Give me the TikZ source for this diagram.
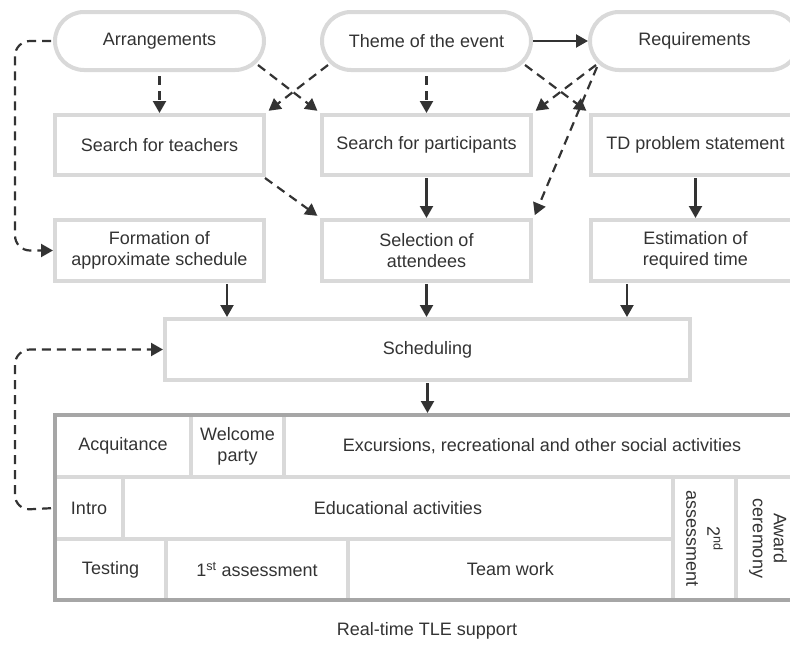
\documentclass[tikz,border=0pt]{standalone}
\usepackage{fontspec}
\setmainfont{Liberation Sans}
\usetikzlibrary{arrows.meta,calc}
\definecolor{boxgray}{HTML}{D9D9D9}
\definecolor{framegray}{HTML}{A6A6A6}
\definecolor{ink}{HTML}{333333}
\begin{document}
\begin{tikzpicture}[x=1pt,y=-1pt,
  every node/.style={text=ink, font=\fontsize{18}{21}\selectfont, inner sep=0pt, outer sep=0pt, align=center},
  pill/.style={draw=boxgray, line width=4pt, minimum width=209pt, minimum height=58pt, rounded corners=29pt, fill=white},
  boxn/.style={draw=boxgray, line width=4pt, minimum width=209pt, minimum height=60pt},
  cell/.style={draw=boxgray, line width=4pt},
  sarrow/.style={draw=ink, line width=2.2pt, -{Triangle[length=12pt,width=13pt]}, shorten >=2pt},
  darrow/.style={sarrow, dash pattern=on 9pt off 6pt},
]
\useasboundingbox (0,0) rectangle (790,648);
\clip (0,0) rectangle (790,648);

% top row
\node[pill] (arr) at (159.5,41) {Arrangements};
\node[pill] (theme) at (426.5,41) {Theme of the event};
\node[pill] (req) at (694.5,41) {Requirements};

% second row
\node[boxn] (tea) at (159.5,145) {Search for teachers};
\node[boxn] (par) at (426.5,145) {Search for participants};
\node[boxn] (td) at (695.5,145) {TD problem statement};

% third row
\node[boxn, minimum height=61pt] (form) at (159.5,250.5) {Formation of\\approximate schedule};
\node[boxn, minimum height=61pt] (sel) at (426.5,250.5) {Selection of\\attendees};
\node[boxn, minimum height=61pt] (est) at (695.5,250.5) {Estimation of\\required time};

% scheduling
\node[boxn, minimum width=525pt, minimum height=61pt] (sch) at (427.5,349.5) {Scheduling};

% table cells
\node[cell, minimum width=136pt, minimum height=62pt] (acq) at (123,446) {Acquitance};
\node[cell, minimum width=93pt, minimum height=62pt] (wel) at (237.5,446) {Welcome\\party};
\node[cell, minimum width=516pt, minimum height=62pt] (exc) at (542,446) {Excursions, recreational and other social activities};
\node[cell, minimum width=68pt, minimum height=62pt] (intro) at (89,508) {Intro};
\node[cell, minimum width=550pt, minimum height=62pt] (edu) at (398,508) {Educational activities};
\node[cell, minimum width=111pt, minimum height=61pt] (test) at (110.5,569.5) {Testing};
\node[cell, minimum width=182pt, minimum height=61pt] (ass1) at (257,569.5) {1\textsuperscript{st} assessment};
\node[cell, minimum width=325pt, minimum height=61pt] (team) at (510.5,569.5) {Team work};
\node[cell, rotate=-90, minimum width=123pt, minimum height=63pt] (ass2) at (704.5,538.5) {2\textsuperscript{nd}\\assessment};
\node[cell, rotate=-90, minimum width=123pt, minimum height=64pt] (award) at (768,538.5) {Award\\ceremony};
\draw[draw=framegray, line width=4pt] (acq.north west) rectangle (exc.east |- test.south);

\node (rt) at (427,631) {Real-time TLE support};

% solid arrows
\draw[sarrow, shorten <=2pt] (theme.east) -- (req.west);
\draw[sarrow, shorten <=3pt] (par.south) -- (sel.north);
\draw[sarrow, shorten <=3pt] (td.south) -- (est.north);
\draw[sarrow, shorten <=3pt] ([xshift=67.5pt]form.south) -- ([xshift=67.5pt]form.south |- sch.north);
\draw[sarrow, shorten <=3pt] (sel.south) -- (sel.south |- sch.north);
\draw[sarrow, shorten <=3pt] ([xshift=-68.5pt]est.south) -- ([xshift=-68.5pt]est.south |- sch.north);
\draw[sarrow, shorten <=3pt] (sch.south) -- (sch.south |- exc.north);

% dashed arrows
\draw[darrow, shorten <=6pt] (arr.south) -- (arr.south |- tea.north);
\draw[darrow, shorten <=6pt] (theme.south) -- (par.north);
\draw[darrow] ([xshift=-6pt,yshift=5pt]arr.south east) -- ([xshift=-3pt,yshift=3pt]par.north west);
\draw[darrow] ([xshift=6pt,yshift=5pt]theme.south west) -- ([xshift=3pt,yshift=3pt]tea.north east);
\draw[darrow] ([xshift=-6pt,yshift=5pt]theme.south east) -- ([xshift=-3pt,yshift=3pt]td.north west);
\draw[darrow] ([xshift=6pt,yshift=5pt]req.south west) -- ([xshift=3pt,yshift=3pt]par.north east);
\draw[darrow] ([xshift=7pt,yshift=3pt]req.south west) -- ([xshift=3pt,yshift=3pt]sel.north east);
\draw[darrow] ([xshift=1pt,yshift=-3pt]tea.south east) -- ([xshift=-3pt,yshift=3pt]sel.north west);

% loops
\coordinate (l1) at (15,41);
\coordinate (l2) at (15,510);
\draw[darrow, rounded corners=15pt, shorten <=4pt] (arr.west) -- (l1) |- (form.west);
\draw[darrow, rounded corners=15pt, shorten <=4pt] (intro.west) -- (l2) |- (sch.west);
\end{tikzpicture}
\end{document}
